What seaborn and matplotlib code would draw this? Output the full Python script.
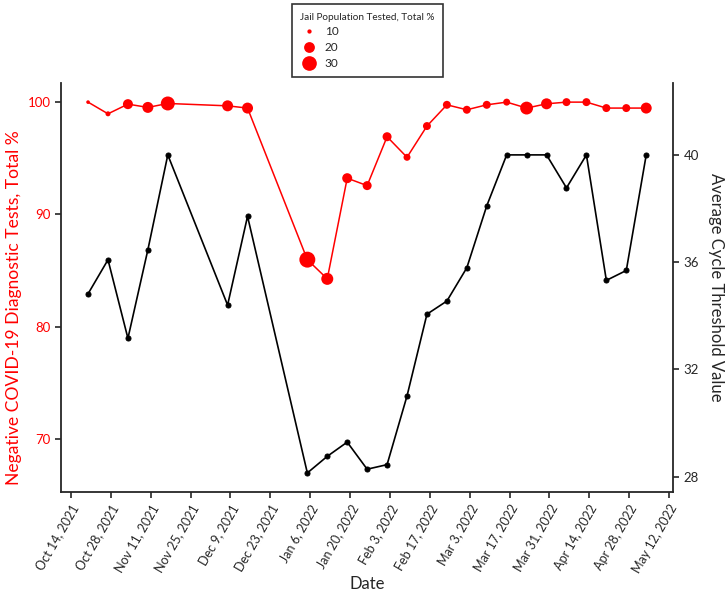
#!/usr/bin/env python

import numpy as np
import pandas as pd
from matplotlib import pyplot as plt
from matplotlib.lines import Line2D
import seaborn as sns

# weekly results
dates = ["2021-10-20", "2021-10-27", "2021-11-03", "2021-11-10", "2021-11-17",
         "2021-12-08", "2021-12-15", "2022-01-05", "2022-01-12", "2022-01-19",
         "2022-01-26", "2022-02-02", "2022-02-09", "2022-02-16", "2022-02-23",
         "2022-03-02", "2022-03-09", "2022-03-16", "2022-03-23", "2022-03-30",
         "2022-04-06", "2022-04-13", "2022-04-20", "2022-04-27", "2022-05-04"]
negative_pct = [100.0, 98.96, 99.82, 99.53, 99.88, 99.67, 99.47, 85.98, 84.27, 93.23,
                92.57, 96.92, 95.09, 97.87, 99.76, 99.32, 99.76, 100.0, 99.47, 99.85,
                100.0, 100.0, 99.47, 99.47, 99.47]
tested_pct = [9.5, 10.7, 18.3, 20.4, 28.0, 20.4, 20.4, 34.0, 22.8, 18.3,
              16.4, 16.4, 13.1, 14.6, 14.6, 14.6, 14.6, 13.1, 25.0, 20.4,
              14.6, 14.6, 14.6, 14.6, 20.4]
cycle_threshold = [34.82, 36.09, 33.16, 36.46, 40.0, 34.40, 37.71, 28.14, 28.76, 29.29,
                   28.28, 28.45, 31.01, 34.06, 34.55, 35.79, 38.10, 40.0, 40.0, 40.0,
                   38.77, 40.0, 35.32, 35.69, 40.0]
legend_sizes = [10, 20, 30]

df = pd.DataFrame({"date": pd.to_datetime(dates), "negative": negative_pct,
                   "tested": tested_pct, "ct": cycle_threshold})

sns.set_style("ticks")
plt.rcParams['font.family'] = ['Lato', 'DejaVu Sans']

size_norm = (8.15, 35)
size_range = (0.0, 137.0)

def marker_area(v):
    return size_range[0] + (v - size_norm[0]) / (size_norm[1] - size_norm[0]) * (size_range[1] - size_range[0])

fig, ax = plt.subplots(figsize=(7.28, 5.96), dpi=100)
fig.subplots_adjust(left=0.0838, right=0.9245, top=0.8607, bottom=0.1745)
ax2 = ax.twinx()

# red: negative tests, marker size by share of population tested
sns.lineplot(data=df, x="date", y="negative", color="red", linewidth=1.1, ax=ax, legend=False)
sns.scatterplot(data=df, x="date", y="negative", size="tested", sizes=size_range,
                size_norm=size_norm, color="red", edgecolor="none", ax=ax, legend=False, zorder=3)

# black: average cycle threshold
sns.lineplot(data=df, x="date", y="ct", color="black", linewidth=1.2, marker="o",
             markersize=3.6, markeredgecolor="black", ax=ax2, legend=False)

ax.set_ylim(65.3, 101.7)
ax.set_yticks([70, 80, 90, 100])
ax2.set_ylim(27.43, 42.68)
ax2.set_yticks([28, 32, 36, 40])

ticks = pd.date_range("2021-10-14", "2022-05-12", freq="14D")
ax.set_xlim(pd.Timestamp("2021-10-10 12:00"), pd.Timestamp("2022-05-13 10:00"))
ax.set_xticks(ticks)
ax.set_xticklabels([f"{d:%b} {d.day}, {d.year}" for d in ticks], rotation=60,
                   ha="right", rotation_mode="anchor", fontsize=9)

ax.set_xlabel("Date", fontsize=12, labelpad=1)
ax.set_ylabel("Negative COVID-19 Diagnostic Tests, Total %", color="red", fontsize=12.6)
ax.yaxis.set_label_coords(-0.064, 0.452)
ax2.set_ylabel("Average Cycle Threshold Value", fontsize=12, rotation=270, labelpad=18)
ax.tick_params(axis="y", labelcolor="red", labelsize=9.5)
ax2.tick_params(axis="y", labelsize=9.5)

for a in (ax, ax2):
    a.spines["top"].set_visible(False)
    for s in a.spines.values():
        s.set_linewidth(1.3)
    a.tick_params(width=1.2, length=4)
ax.spines["right"].set_visible(False)
ax2.spines["left"].set_visible(False)
ax2.spines["bottom"].set_visible(False)

handles = [Line2D([], [], linestyle="none", marker="o", color="red", markeredgecolor="none",
                  markersize=np.sqrt(marker_area(v))) for v in legend_sizes]
leg = ax.legend(handles, [str(v) for v in legend_sizes], title="Jail Population Tested, Total %",
                loc="lower center", bbox_to_anchor=(0.5, 1.0), fontsize=8.5, title_fontsize=7.2,
                frameon=True, fancybox=False, edgecolor="black", alignment="left",
                handletextpad=0.5, labelspacing=0.4, borderpad=0.7, handlelength=1.6)
leg.get_frame().set_linewidth(1.2)

fig.savefig("out.png")
plt.close(fig)
